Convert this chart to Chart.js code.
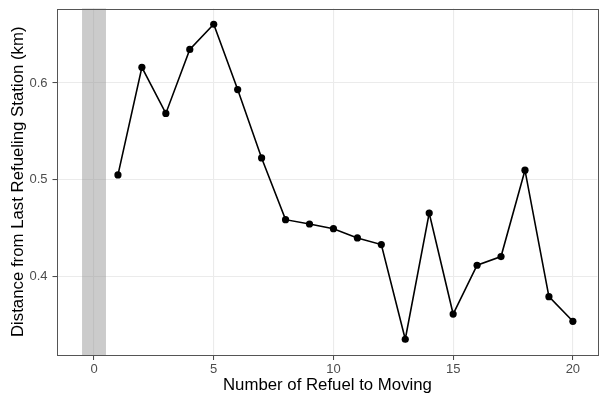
<!DOCTYPE html>
<html>
<head>
<meta charset="utf-8">
<script src="https://cdn.jsdelivr.net/npm/chart.js@4/dist/chart.umd.min.js"></script>
<style>
  html, body { margin: 0; padding: 0; background: #ffffff; }
  #wrap { width: 601px; height: 395px; }
</style>
</head>
<body>
<div id="wrap"><canvas id="c" width="601" height="395"></canvas></div>
<script>
// Refuel count vs. distance from the last refueling station
const refuelCounts = [1, 2, 3, 4, 5, 6, 7, 8, 9, 10, 11, 12, 13, 14, 15, 16, 17, 18, 19, 20];
const distancesKm = [0.5048, 0.6162, 0.5685, 0.6347, 0.6608, 0.5932, 0.5224, 0.4585, 0.4540, 0.4492,
                     0.4396, 0.4327, 0.3347, 0.4654, 0.3608, 0.4113, 0.4203, 0.5097, 0.3788, 0.3533];
const xTickValues = [0, 5, 10, 15, 20];
const yTickValues = [0.4, 0.5, 0.6];
const shadedBand = [-0.5, 0.5];   // highlighted interval around zero refuels

const FONT = "'Liberation Sans', Arial, Helvetica, sans-serif";

// ggplot-style 5% expansion around the data range
function expand(lo, hi) {
  const pad = (hi - lo) * 0.05;
  return [lo - pad, hi + pad];
}
const xRange = expand(Math.min(shadedBand[0], ...refuelCounts), Math.max(shadedBand[1], ...refuelCounts));
const yRange = expand(Math.min(...distancesKm), Math.max(...distancesKm));

const bandPlugin = {
  id: 'band',
  beforeDatasetsDraw(chart) {
    const { ctx, chartArea, scales } = chart;
    const x0 = scales.x.getPixelForValue(shadedBand[0]);
    const x1 = scales.x.getPixelForValue(shadedBand[1]);
    ctx.save();
    ctx.fillStyle = 'rgba(140,140,140,0.45)';
    ctx.fillRect(x0, chartArea.top, x1 - x0, chartArea.bottom - chartArea.top);
    ctx.restore();
  }
};

const borderPlugin = {
  id: 'panelBorder',
  afterDraw(chart) {
    const { ctx, chartArea } = chart;
    ctx.save();
    ctx.strokeStyle = '#555555';
    ctx.lineWidth = 1;
    ctx.strokeRect(Math.round(chartArea.left) - 0.5, Math.round(chartArea.top) + 0.5,
                   Math.round(chartArea.right - chartArea.left) + 1,
                   Math.round(chartArea.bottom - chartArea.top) - 1);
    ctx.restore();
  }
};

// keep the plot panel at a fixed size: no extra label overhang padding
function noOverhang(scale) {
  scale.paddingTop = 0;
  scale.paddingBottom = 0;
  scale.paddingLeft = 0;
  scale.paddingRight = 0;
}

new Chart(document.getElementById('c'), {
  type: 'line',
  data: {
    datasets: [{
      data: refuelCounts.map((x, i) => ({ x: x, y: distancesKm[i] })),
      borderColor: '#000000',
      backgroundColor: '#000000',
      borderWidth: 1.6,
      pointRadius: 3.6,
      pointHoverRadius: 3.6,
      pointBorderWidth: 0,
      tension: 0,
      fill: false
    }]
  },
  plugins: [bandPlugin, borderPlugin],
  options: {
    responsive: false,
    animation: false,
    events: [],
    layout: { padding: { left: 0, top: 8.5, right: 1, bottom: 0 } },
    plugins: { legend: { display: false }, tooltip: { enabled: false } },
    scales: {
      x: {
        type: 'linear',
        min: xRange[0],
        max: xRange[1],
        afterBuildTicks(scale) { scale.ticks = xTickValues.map(v => ({ value: v })); },
        afterFit(scale) { scale.height = 40; noOverhang(scale); },
        ticks: {
          color: '#4D4D4D',
          font: { family: FONT, size: 13 },
          padding: 2,
          maxRotation: 0,
          callback: v => String(v)
        },
        grid: {
          color: '#EBEBEB',
          lineWidth: 1.1,
          drawTicks: true,
          tickLength: 5,
          tickColor: '#444444',
          tickWidth: 1
        },
        border: { display: false },
        title: {
          display: true,
          text: 'Number of Refuel to Moving',
          color: '#000000',
          font: { family: FONT, size: 16.8, lineHeight: 1.1 },
          padding: { top: 0, bottom: 0 }
        }
      },
      y: {
        type: 'linear',
        min: yRange[0],
        max: yRange[1],
        afterBuildTicks(scale) { scale.ticks = yTickValues.map(v => ({ value: v })); },
        afterFit(scale) { scale.width = 57.5; noOverhang(scale); },
        ticks: {
          color: '#4D4D4D',
          font: { family: FONT, size: 13 },
          padding: 5,
          callback: v => v.toFixed(1)
        },
        grid: {
          color: '#EBEBEB',
          lineWidth: 1.1,
          drawTicks: true,
          tickLength: 5,
          tickColor: '#444444',
          tickWidth: 1
        },
        border: { display: false },
        title: {
          display: true,
          text: 'Distance from Last Refueling Station (km)',
          color: '#000000',
          font: { family: FONT, size: 16.8, lineHeight: 1.1 },
          padding: { top: 9.5, bottom: 0 }
        }
      }
    }
  }
});
</script>
</body>
</html>
